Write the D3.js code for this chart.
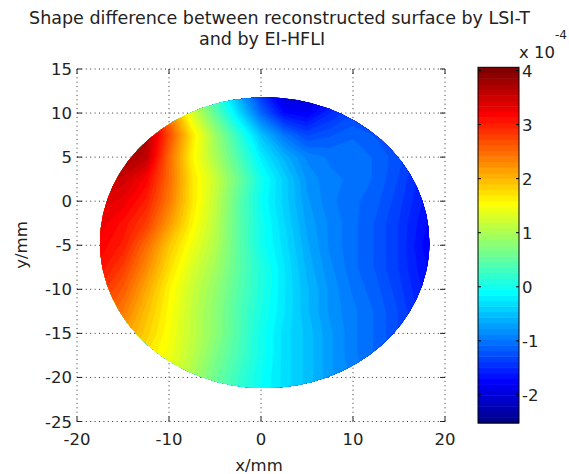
<!DOCTYPE html>
<html><head><meta charset="utf-8">
<script src="https://cdn.jsdelivr.net/npm/d3@7"></script>
<style>
body{margin:0;background:#fff;}
text{font-family:"DejaVu Sans",Verdana,sans-serif;fill:#222;}
</style>
</head><body>
<svg id="chart" width="569" height="474"></svg>
<script>
// ---------------- data ----------------
const titleLines = ["Shape difference between reconstructed surface by LSI-T", "and by EI-HFLI"];
const xLabel = "x/mm";
const yLabel = "y/mm";
const xTicks = [-20, -10, 0, 10, 20];
const yTicks = [15, 10, 5, 0, -5, -10, -15, -20, -25];
const cbTicks = [-2, -1, 0, 1, 2, 3, 4];
const cbExponent = "-4";
const cbDomain = [-2.52, 4.06];          // colour limits, in units of 1e-4
const gridX = [-20, -17.5, -15, -12.5, -10, -7.5, -5, -2.5, 0, 2.5, 5, 7.5, 10, 12.5, 15, 17.5, 20];
const gridY = [12.5, 10, 7.5, 5, 2.5, 0, -2.5, -5, -7.5, -10, -12.5, -15, -17.5, -20, -22.5];
// surface difference (x 1e-4), one row per gridY value, one column per gridX value
const gridValues = [
  [3.5, 3.5, 3.4, 3.0, 2.2, 1.0, 0.2, -0.7, -1.5, -2.1, -2.1, -1.8, -1.5, -1.4, -1.5, -1.7, -1.9],
  [3.7, 3.7, 3.6, 3.3, 2.4, 1.3, 0.5, -0.3, -1.1, -1.7, -1.8, -1.5, -1.3, -1.2, -1.4, -1.6, -1.8],
  [3.9, 3.9, 3.9, 3.7, 2.7, 1.7, 0.9, 0.2, -0.5, -1.0, -1.3, -1.2, -1.1, -1.2, -1.3, -1.5, -1.7],
  [3.8, 3.8, 3.8, 3.6, 2.5, 1.6, 1.0, 0.4, -0.2, -0.6, -0.9, -1.0, -1.0, -1.1, -1.25, -1.5, -1.7],
  [3.6, 3.6, 3.5, 3.2, 2.5, 1.7, 1.2, 0.6, 0.0, -0.4, -0.8, -0.95, -1.0, -1.1, -1.3, -1.55, -1.75],
  [3.4, 3.4, 3.3, 3.0, 2.4, 1.7, 1.15, 0.5, -0.05, -0.4, -0.75, -0.95, -1.05, -1.15, -1.35, -1.6, -1.8],
  [3.3, 3.3, 3.1, 2.8, 2.2, 1.6, 1.1, 0.5, 0.0, -0.35, -0.7, -0.9, -1.05, -1.2, -1.4, -1.65, -1.85],
  [3.2, 3.2, 3.0, 2.5, 1.9, 1.45, 1.05, 0.5, 0.0, -0.3, -0.65, -0.9, -1.05, -1.2, -1.4, -1.7, -1.9],
  [3.1, 3.1, 2.8, 2.3, 1.75, 1.3, 0.95, 0.5, 0.1, -0.25, -0.6, -0.85, -1.05, -1.2, -1.4, -1.65, -1.85],
  [2.9, 2.9, 2.6, 2.1, 1.6, 1.2, 0.85, 0.45, 0.1, -0.25, -0.55, -0.8, -1.0, -1.15, -1.35, -1.6, -1.8],
  [2.7, 2.7, 2.4, 1.95, 1.55, 1.15, 0.8, 0.4, 0.05, -0.25, -0.55, -0.8, -0.95, -1.1, -1.3, -1.55, -1.75],
  [2.5, 2.5, 2.2, 1.85, 1.5, 1.15, 0.8, 0.4, 0.0, -0.3, -0.5, -0.75, -0.95, -1.1, -1.3, -1.5, -1.7],
  [2.3, 2.3, 2.0, 1.7, 1.45, 1.1, 0.7, 0.35, 0.0, -0.3, -0.5, -0.75, -0.95, -1.1, -1.25, -1.45, -1.65],
  [2.2, 2.2, 1.9, 1.6, 1.35, 1.0, 0.6, 0.25, -0.05, -0.3, -0.5, -0.75, -0.9, -1.05, -1.2, -1.4, -1.6],
  [2.2, 2.2, 1.9, 1.6, 1.35, 1.0, 0.6, 0.25, -0.05, -0.3, -0.5, -0.75, -0.9, -1.05, -1.2, -1.4, -1.6]
];
const diskCenter = [0.4, -4.7];   // mm
const diskRadius = [17.9, 16.5];  // mm (x, y)

// ---------------- jet(64) colormap (MATLAB) ----------------
function jetMap(m) {
  const n = Math.ceil(m / 4);
  const u = [];
  for (let i = 1; i <= n; i++) u.push(i / n);
  for (let i = 1; i < n; i++) u.push(1);
  for (let i = n; i >= 1; i--) u.push(i / n);
  const J = d3.range(m).map(() => [0, 0, 0]);
  const g0 = Math.ceil(n / 2) - ((m % 4) === 1 ? 1 : 0);
  u.forEach((val, k) => {
    const g = g0 + k + 1, r = g + n, b = g - n;
    if (r >= 1 && r <= m) J[r - 1][0] = val;
    if (g >= 1 && g <= m) J[g - 1][1] = val;
    if (b >= 1 && b <= m) J[b - 1][2] = val;
  });
  return J.map(c => d3.rgb(c[0] * 255, c[1] * 255, c[2] * 255).formatHex());
}
const NC = 64;
const cmap = jetMap(NC);
const levels = d3.range(NC).map(i => cbDomain[0] + i * (cbDomain[1] - cbDomain[0]) / NC);

// ---------------- layout ----------------
const svg = d3.select("#chart");
svg.append("rect").attr("width", 569).attr("height", 474).attr("fill", "#fff");
const x = d3.scaleLinear().domain([-20, 20]).range([77, 445]);
const y = d3.scaleLinear().domain([-25, 15]).range([421.5, 69]);
const cbY = d3.scaleLinear().domain(cbDomain).range([423, 67.3]);
const cbX0 = 478, cbX1 = 519;
const FS = 16.5;

// grid (dotted) incl. box edges
const gGrid = svg.append("g").attr("stroke", "#333").attr("stroke-width", 1)
  .attr("stroke-dasharray", "1,3.4").attr("fill", "none");
xTicks.forEach(t => gGrid.append("line").attr("x1", x(t)).attr("x2", x(t)).attr("y1", y(-25)).attr("y2", y(15)));
yTicks.forEach(t => gGrid.append("line").attr("x1", x(-20)).attr("x2", x(20)).attr("y1", y(t)).attr("y2", y(t)));

// tick marks
const gTk = svg.append("g").attr("stroke", "#222").attr("stroke-width", 1);
const tl = 5;
xTicks.forEach(t => {
  gTk.append("line").attr("x1", x(t)).attr("x2", x(t)).attr("y1", y(-25)).attr("y2", y(-25) - tl);
  gTk.append("line").attr("x1", x(t)).attr("x2", x(t)).attr("y1", y(15)).attr("y2", y(15) + tl);
});
yTicks.forEach(t => {
  gTk.append("line").attr("x1", x(-20)).attr("x2", x(-20) + tl).attr("y1", y(t)).attr("y2", y(t));
  gTk.append("line").attr("x1", x(20)).attr("x2", x(20) - tl).attr("y1", y(t)).attr("y2", y(t));
});

// surface via contour bands
const nx = gridX.length, ny = gridY.length;
const flat = [].concat(...gridValues);
const stepX = gridX[1] - gridX[0], stepY = gridY[1] - gridY[0];
const proj = d3.geoTransform({
  point: function(px, py) {
    this.stream.point(x(gridX[0] + (px - 0.5) * stepX), y(gridY[0] + (py - 0.5) * stepY));
  }
});
const path = d3.geoPath(proj);
const bands = d3.contours().size([nx, ny]).thresholds(levels)(flat);
svg.append("defs").append("clipPath").attr("id", "disk")
  .append("ellipse")
  .attr("cx", x(diskCenter[0])).attr("cy", y(diskCenter[1]))
  .attr("rx", x(diskRadius[0]) - x(0)).attr("ry", y(0) - y(diskRadius[1]));
const gS = svg.append("g").attr("clip-path", "url(#disk)");
bands.forEach((b, i) => {
  gS.append("path").attr("d", path(b)).attr("fill", cmap[i]).attr("stroke", cmap[i]).attr("stroke-width", 0.6);
});

// axis tick labels
const gL = svg.append("g").style("font-size", FS + "px");
xTicks.forEach(t => gL.append("text").attr("x", x(t)).attr("y", 445).attr("text-anchor", "middle").text(t));
yTicks.forEach(t => gL.append("text").attr("x", 72).attr("y", y(t) + 6).attr("text-anchor", "end").text(t));

// axis labels
svg.append("text").attr("x", 259).attr("y", 471).attr("text-anchor", "middle").style("font-size", FS + "px").text(xLabel);
svg.append("text").attr("transform", "translate(27,245) rotate(-90)").attr("text-anchor", "middle").style("font-size", FS + "px").text(yLabel);

// title
svg.append("text").attr("x", 279.5).attr("y", 24).attr("text-anchor", "middle").style("font-size", "17.5px").text(titleLines[0]);
svg.append("text").attr("x", 262).attr("y", 45).attr("text-anchor", "middle").style("font-size", "17.5px").text(titleLines[1]);

// colorbar
const gC = svg.append("g");
levels.forEach((lv, i) => {
  const top = cbY(i === NC - 1 ? cbDomain[1] : levels[i + 1]);
  gC.append("rect").attr("x", cbX0).attr("width", cbX1 - cbX0)
    .attr("y", top).attr("height", cbY(lv) - top + 0.5).attr("fill", cmap[i]);
});
gC.append("rect").attr("x", cbX0).attr("y", cbY(cbDomain[1])).attr("width", cbX1 - cbX0)
  .attr("height", cbY(cbDomain[0]) - cbY(cbDomain[1])).attr("fill", "none").attr("stroke", "#000");
cbTicks.forEach(t => {
  gC.append("line").attr("x1", cbX0).attr("x2", cbX0 + 3).attr("y1", cbY(t)).attr("y2", cbY(t)).attr("stroke", "#000");
  gC.append("line").attr("x1", cbX1).attr("x2", cbX1 - 3).attr("y1", cbY(t)).attr("y2", cbY(t)).attr("stroke", "#000");
  gC.append("text").attr("x", 522).attr("y", cbY(t) + 6).style("font-size", FS + "px").text(t);
});
svg.append("text").attr("x", 519).attr("y", 58).style("font-size", FS + "px").text("x 10");
svg.append("text").attr("x", 555).attr("y", 39).style("font-size", "12px").text(cbExponent);
</script>
</body></html>
